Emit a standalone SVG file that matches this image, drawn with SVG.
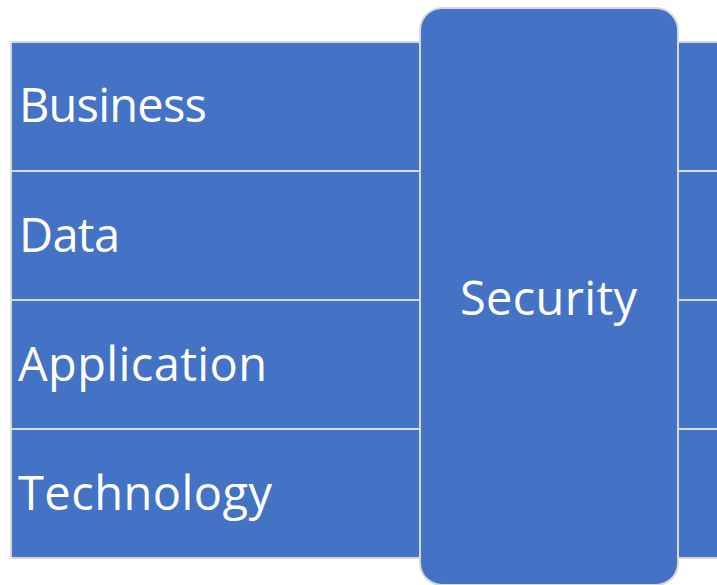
<svg xmlns="http://www.w3.org/2000/svg" width="717" height="585" viewBox="0 0 717 585">
<style>
.band{fill:#4472C4;stroke:#d9d9d9;stroke-width:2}
.lbl{fill:#ffffff;font-family:"Open Sans","Liberation Sans",sans-serif;font-size:47px}
</style>
<rect width="717" height="585" fill="#ffffff"/>
<g id="business"><rect class="band" x="11" y="42" width="720" height="129"/><text class="lbl" x="19" y="122" textLength="188">Business</text></g>
<g id="data"><rect class="band" x="11" y="171" width="720" height="129"/><text class="lbl" x="19" y="252" textLength="101">Data</text></g>
<g id="application"><rect class="band" x="11" y="300" width="720" height="129"/><text class="lbl" x="18" y="381" textLength="249">Application</text></g>
<g id="technology"><rect class="band" x="11" y="429" width="720" height="129"/><text class="lbl" x="18" y="510" textLength="254">Technology</text></g>
<g id="security"><rect class="band" x="420" y="8" width="258" height="577" rx="22" ry="22"/><text class="lbl" x="460" y="315" textLength="177">Security</text></g>
<g id="connectors"/>
</svg>
